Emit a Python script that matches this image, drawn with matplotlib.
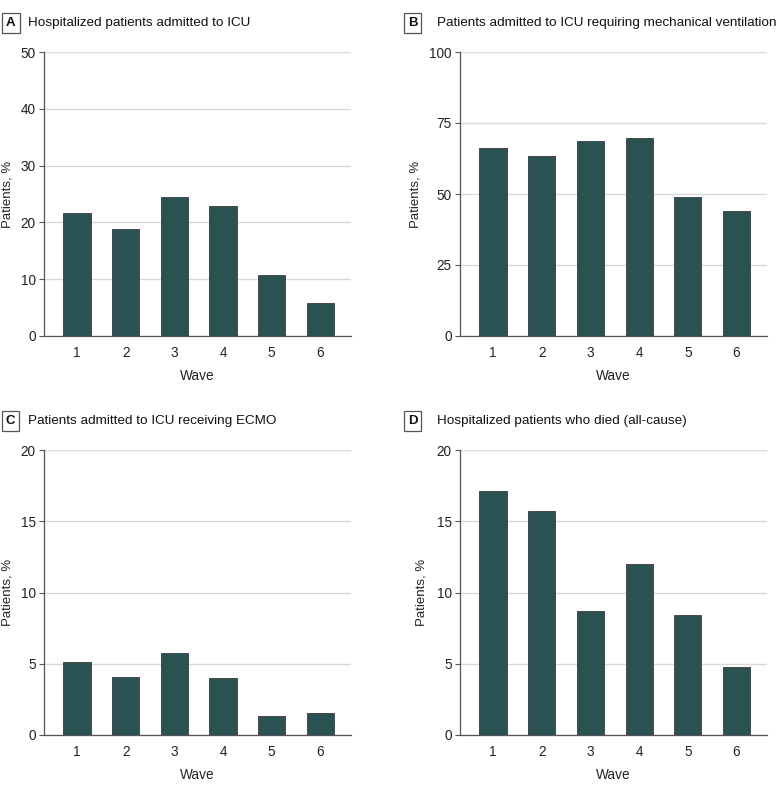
import matplotlib
matplotlib.use("Agg")
import matplotlib.pyplot as plt

plt.rcParams['font.family'] = ['Liberation Sans', 'DejaVu Sans']

waves = [1, 2, 3, 4, 5, 6]
icu = [21.7, 18.8, 24.4, 22.9, 10.7, 5.75]
mech_vent = [66.2, 63.4, 68.7, 69.7, 48.8, 44.1]
ecmo = [5.12, 4.06, 5.73, 3.99, 1.34, 1.53]
died = [17.1, 15.7, 8.71, 11.99, 8.43, 4.77]

panels = [
    ("A", "Hospitalized patients admitted to ICU", icu, 50, [0, 10, 20, 30, 40, 50]),
    ("B", "Patients admitted to ICU requiring mechanical ventilation", mech_vent, 100, [0, 25, 50, 75, 100]),
    ("C", "Patients admitted to ICU receiving ECMO", ecmo, 20, [0, 5, 10, 15, 20]),
    ("D", "Hospitalized patients who died (all-cause)", died, 20, [0, 5, 10, 15, 20]),
]

W, H = 780, 793
fig = plt.figure(figsize=(W / 100, H / 100), dpi=100)

bar_color = "#2a5252"
positions = [
    (43.5, 52, 350.5, 336),
    (459.5, 52, 766.7, 336),
    (43.5, 450, 350.5, 735),
    (459.5, 450, 766.7, 735),
]
box_x = [6, 408, 6, 408]
title_x = [28, 437, 28, 437]
ylab_right = [14, 421, 14, 428]

for i, ((lab, title, vals, ymax, ticks), (x0, y0, x1, y1)) in enumerate(zip(panels, positions)):
    ax = fig.add_axes([x0 / W, 1 - y1 / H, (x1 - x0) / W, (y1 - y0) / H])
    ax.bar(waves, vals, width=0.56, color=bar_color, edgecolor="#3a3a3a", linewidth=0.6, zorder=3)
    ax.set_ylim(0, ymax)
    ax.set_xlim(0.31, 6.62)
    ax.set_yticks(ticks)
    ax.set_xticks(waves)
    ax.yaxis.grid(True, color="#d9d9d9", linewidth=1.0, zorder=0)
    ax.set_axisbelow(True)
    for s in ["top", "right"]:
        ax.spines[s].set_visible(False)
    ax.spines["left"].set_color("#555555")
    ax.spines["bottom"].set_color("#555555")
    ax.spines["left"].set_linewidth(0.9)
    ax.spines["bottom"].set_linewidth(0.9)
    ax.tick_params(axis="x", length=0, labelsize=9.8, pad=7, colors="#222222")
    ax.tick_params(axis="y", length=3.5, width=0.8, color="#555555", labelsize=9.8, pad=2, labelcolor="#222222")
    ax.set_xlabel("Wave", fontsize=9.8, labelpad=7, color="#222222")
    ax.set_ylabel("Patients, %", fontsize=9.5, color="#222222")
    ax.yaxis.set_label_coords((ylab_right[i] - x0) / (x1 - x0), 0.5)
    # Panel label box and title
    ty = 1 - (y0 - 29) / H
    fig.text(box_x[i] / W, ty, lab, fontsize=9.5, fontweight="bold", ha="left", va="center", color="#111111",
             bbox=dict(boxstyle="square,pad=0.3", facecolor="white", edgecolor="#555555", linewidth=0.9))
    fig.text(title_x[i] / W, ty, title, fontsize=9.7, ha="left", va="center", color="#111111")

fig.savefig("out.png", dpi=100)
